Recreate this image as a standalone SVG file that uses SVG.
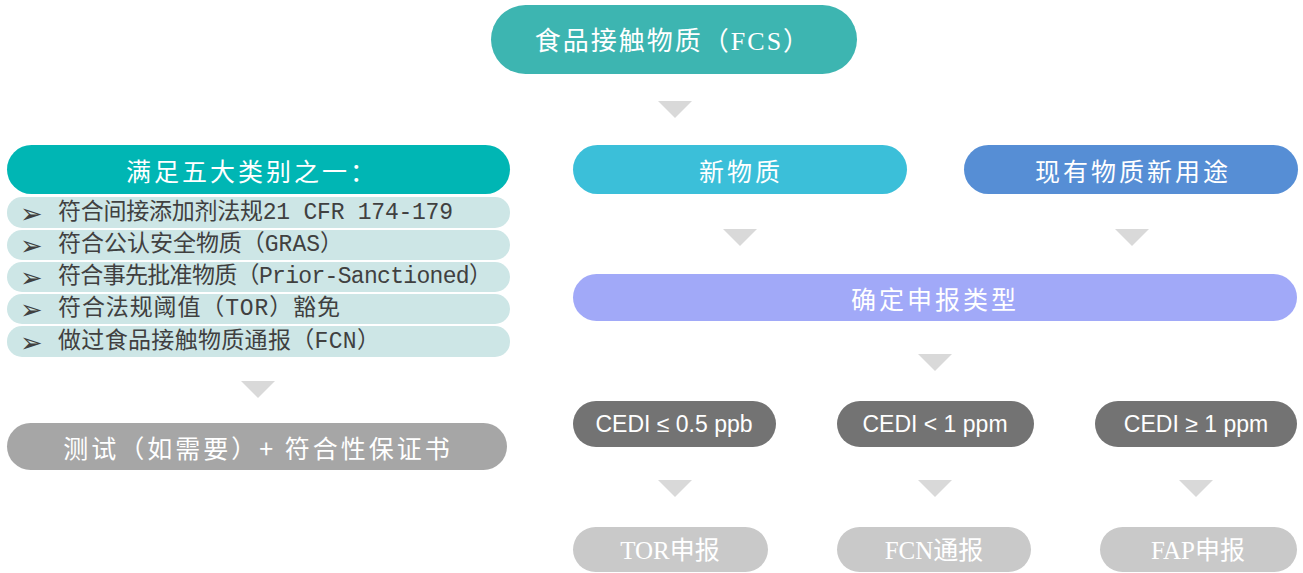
<svg xmlns="http://www.w3.org/2000/svg" width="1303" height="573" viewBox="0 0 1303 573">
<style>
.lbl{fill:#fff;text-anchor:middle;dominant-baseline:central}
.serif{font-family:"Liberation Serif","Noto Sans CJK SC",serif}
.sans{font-family:"Noto Sans CJK SC",sans-serif}
.cedi{font-family:"Liberation Sans Narrow","Liberation Sans",sans-serif;font-size:23px}
.item{fill:#404040;font-family:"Liberation Mono","Noto Sans CJK SC",monospace;font-size:23px;dominant-baseline:central}
.bul{font-family:"DejaVu Sans",sans-serif;font-size:27px;fill:#404040;dominant-baseline:central}
.row{fill:#cde6e6}
.tri{fill:#d9d9d9}
</style>
<g id="node-fcs">
<rect x="491" y="5" width="366" height="69" rx="34.5" fill="#3db5b1"/>
<text class="lbl serif" x="673" y="41" font-size="26" letter-spacing="2">食品接触物质（FCS）</text>
</g>
<g id="node-five">
<rect x="7" y="145" width="503" height="49" rx="24.5" fill="#00b6b4"/>
<text class="lbl sans" x="252" y="170" font-size="25" letter-spacing="3">满足五大类别之一：</text>
</g>
<g id="node-list">
<rect class="row" x="7" y="197" width="503" height="31" rx="15"/>
<rect class="row" x="7" y="230" width="503" height="30" rx="15"/>
<rect class="row" x="7" y="262" width="503" height="30" rx="15"/>
<rect class="row" x="7" y="294" width="503" height="30" rx="15"/>
<rect class="row" x="7" y="326" width="503" height="31" rx="15"/>
<text class="bul" x="20" y="213">➢</text>
<text class="bul" x="20" y="245">➢</text>
<text class="bul" x="20" y="277">➢</text>
<text class="bul" x="20" y="309">➢</text>
<text class="bul" x="20" y="342">➢</text>
<text class="item" x="58" y="213" textLength="395" lengthAdjust="spacing">符合间接添加剂法规21 CFR 174-179</text>
<text class="item" x="58" y="245" textLength="285" lengthAdjust="spacing">符合公认安全物质（GRAS）</text>
<text class="item" x="58" y="277" textLength="434" lengthAdjust="spacing">符合事先批准物质（Prior-Sanctioned）</text>
<text class="item" x="58" y="309" textLength="282" lengthAdjust="spacing">符合法规阈值（TOR）豁免</text>
<text class="item" x="58" y="342" textLength="322" lengthAdjust="spacing">做过食品接触物质通报（FCN）</text>
</g>
<g id="node-test">
<rect x="7" y="423" width="500" height="47" rx="23.5" fill="#a6a6a6"/>
<text class="lbl sans" x="258" y="447" font-size="25" letter-spacing="3">测试（如需要）+ 符合性保证书</text>
</g>
<g id="node-new">
<rect x="573" y="145" width="334" height="49" rx="24.5" fill="#3bbfd9"/>
<text class="lbl sans" x="741" y="170" font-size="25" letter-spacing="3">新物质</text>
</g>
<g id="node-newuse">
<rect x="964" y="145" width="334" height="49" rx="24.5" fill="#568ed5"/>
<text class="lbl sans" x="1133" y="170" font-size="25" letter-spacing="3">现有物质新用途</text>
</g>
<g id="node-type">
<rect x="573" y="274" width="724" height="47" rx="23.5" fill="#a1a9f8"/>
<text class="lbl sans" x="935" y="298" font-size="25" letter-spacing="3">确定申报类型</text>
</g>
<g id="node-cedi1">
<rect x="573" y="401" width="203" height="46" rx="23" fill="#737373"/>
<text class="lbl cedi" x="674" y="424">CEDI ≤ 0.5 ppb</text>
</g>
<g id="node-cedi2">
<rect x="837" y="401" width="197" height="46" rx="23" fill="#737373"/>
<text class="lbl cedi" x="935" y="424">CEDI &lt; 1 ppm</text>
</g>
<g id="node-cedi3">
<rect x="1095" y="401" width="202" height="46" rx="23" fill="#737373"/>
<text class="lbl cedi" x="1196" y="424">CEDI ≥ 1 ppm</text>
</g>
<g id="node-tor">
<rect x="573" y="527" width="195" height="45" rx="22.5" fill="#c9c9c9"/>
<text class="lbl serif" x="670" y="550" font-size="25">TOR申报</text>
</g>
<g id="node-fcn">
<rect x="837" y="527" width="194" height="45" rx="22.5" fill="#c9c9c9"/>
<text class="lbl serif" x="934" y="550" font-size="25">FCN通报</text>
</g>
<g id="node-fap">
<rect x="1100" y="527" width="197" height="45" rx="22.5" fill="#c9c9c9"/>
<text class="lbl serif" x="1198" y="550" font-size="25">FAP申报</text>
</g>
<g id="connectors">
<polygon class="tri" points="658,101 692,101 675,118"/>
<polygon class="tri" points="241,381 275,381 258,398"/>
<polygon class="tri" points="723,229 757,229 740,246"/>
<polygon class="tri" points="1115,229 1149,229 1132,246"/>
<polygon class="tri" points="918,354 952,354 935,371"/>
<polygon class="tri" points="658,480 692,480 675,497"/>
<polygon class="tri" points="918,480 952,480 935,497"/>
<polygon class="tri" points="1179,480 1213,480 1196,497"/>
</g>
</svg>
